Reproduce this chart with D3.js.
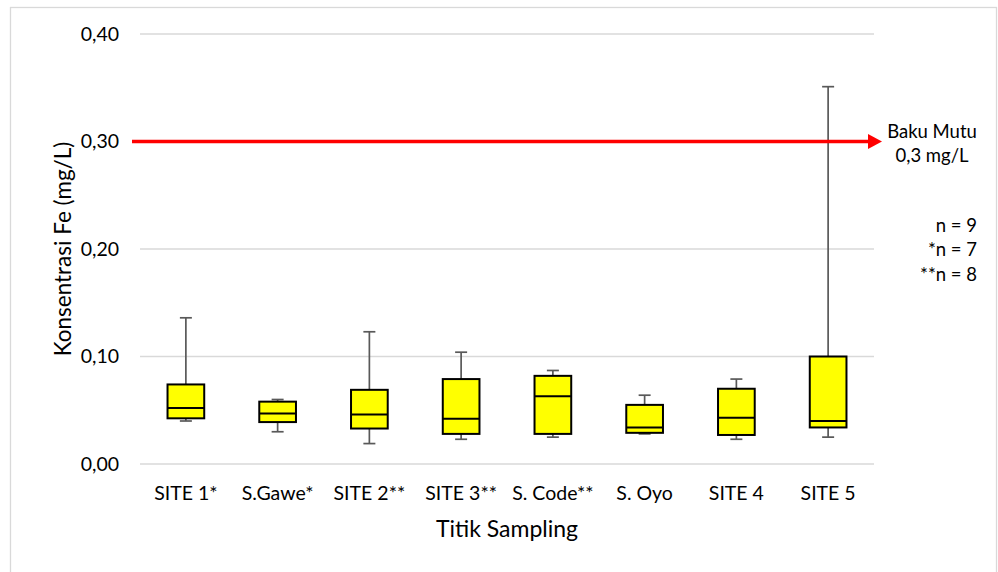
<html>
<head>
<style>
  body { margin: 0; background: #fff; }
  text { font-family: Lato, "Open Sans", sans-serif; fill: #000; }
</style>
</head>
<body>
<div id="chart"></div>
<script src="https://d3js.org/d3.v7.min.js"></script>
<script>
var categories = ["SITE 1*", "S.Gawe*", "SITE 2**", "SITE 3**", "S. Code**", "S. Oyo", "SITE 4", "SITE 5"];
var whiskerLow  = [0.040, 0.030, 0.019, 0.023, 0.025, 0.028, 0.023, 0.025];
var q1          = [0.0425, 0.039, 0.033, 0.028, 0.028, 0.029, 0.027, 0.034];
var median      = [0.052, 0.047, 0.046, 0.042, 0.063, 0.034, 0.043, 0.040];
var q3          = [0.074, 0.058, 0.069, 0.079, 0.082, 0.055, 0.070, 0.100];
var whiskerHigh = [0.136, 0.060, 0.123, 0.104, 0.087, 0.064, 0.079, 0.351];
var yTicks = [0, 0.1, 0.2, 0.3, 0.4];
var bakuMutu = 0.3;
var nNotes = ["n = 9", "*n = 7", "**n = 8"];

var W = 998, H = 572;
var margin = {top: 34, left: 140, right: 124, bottom: 108};

var svg = d3.select("#chart").append("svg")
  .attr("width", W)
  .attr("height", H);

// chart area border
svg.append("rect")
  .attr("x", 10.5).attr("y", 7.5)
  .attr("width", W - 12).attr("height", H)
  .attr("fill", "none")
  .attr("stroke", "#d9d9d9")
  .attr("stroke-width", 1.3);

var x = d3.scaleBand()
  .domain(categories)
  .range([margin.left, W - margin.right])
  .paddingInner(0.6)
  .paddingOuter(0.3);

var y = d3.scaleLinear()
  .domain([0, 0.4])
  .range([H - margin.bottom, margin.top]);

var fmt = function(d) { return d3.format(".2f")(d).replace(".", ","); };

// gridlines
svg.append("g")
  .selectAll("line")
  .data(yTicks)
  .enter().append("line")
  .attr("x1", margin.left).attr("x2", W - margin.right)
  .attr("y1", function(d) { return y(d); })
  .attr("y2", function(d) { return y(d); })
  .attr("stroke", "#d9d9d9")
  .attr("stroke-width", 1.3);

// y tick labels
var yAxis = svg.append("g")
  .attr("transform", "translate(" + margin.left + ",0)")
  .call(d3.axisLeft(y).tickValues(yTicks).tickFormat(fmt).tickSize(0).tickPadding(21));
yAxis.select(".domain").remove();
yAxis.selectAll("text")
  .style("font-family", "Lato, sans-serif")
  .style("font-size", "19.5px")
  .attr("fill", "#000");

// x category labels
var xAxis = svg.append("g")
  .attr("transform", "translate(0," + y(0) + ")")
  .call(d3.axisBottom(x).tickSize(0).tickPadding(22));
xAxis.select(".domain").remove();
xAxis.selectAll("text")
  .style("font-family", "Lato, sans-serif")
  .style("font-size", "19.5px")
  .attr("fill", "#000");

// axis titles
svg.append("text")
  .attr("x", (margin.left + W - margin.right) / 2)
  .attr("y", 537)
  .attr("text-anchor", "middle")
  .style("font-size", "23px")
  .text("Titik Sampling");

svg.append("text")
  .attr("transform", "translate(71," + (y(0) + y(0.4)) / 2 + ") rotate(-90)")
  .attr("text-anchor", "middle")
  .style("font-size", "22.5px")
  .text("Konsentrasi Fe (mg/L)");

var idx = d3.range(categories.length);
var cx = function(i) { return x(categories[i]) + x.bandwidth() / 2; };

// whiskers
var wg = svg.append("g").attr("stroke", "#595959").attr("stroke-width", 1.7);
wg.selectAll(".wlo").data(idx).enter().append("line")
  .attr("x1", cx).attr("x2", cx)
  .attr("y1", function(i) { return y(whiskerLow[i]); })
  .attr("y2", function(i) { return y(q1[i]); });
wg.selectAll(".whi").data(idx).enter().append("line")
  .attr("x1", cx).attr("x2", cx)
  .attr("y1", function(i) { return y(whiskerHigh[i]); })
  .attr("y2", function(i) { return y(q3[i]); });
wg.selectAll(".clo").data(idx).enter().append("line")
  .attr("x1", function(i) { return cx(i) - 6; })
  .attr("x2", function(i) { return cx(i) + 6; })
  .attr("y1", function(i) { return y(whiskerLow[i]); })
  .attr("y2", function(i) { return y(whiskerLow[i]); });
wg.selectAll(".chi").data(idx).enter().append("line")
  .attr("x1", function(i) { return cx(i) - 6; })
  .attr("x2", function(i) { return cx(i) + 6; })
  .attr("y1", function(i) { return y(whiskerHigh[i]); })
  .attr("y2", function(i) { return y(whiskerHigh[i]); });

// boxes
svg.append("g").selectAll("rect").data(idx).enter().append("rect")
  .attr("x", function(i) { return x(categories[i]); })
  .attr("y", function(i) { return y(q3[i]); })
  .attr("width", x.bandwidth())
  .attr("height", function(i) { return y(q1[i]) - y(q3[i]); })
  .attr("fill", "#ffff00")
  .attr("stroke", "#000")
  .attr("stroke-width", 2);

// medians
svg.append("g").selectAll("line").data(idx).enter().append("line")
  .attr("x1", function(i) { return x(categories[i]); })
  .attr("x2", function(i) { return x(categories[i]) + x.bandwidth(); })
  .attr("y1", function(i) { return y(median[i]); })
  .attr("y2", function(i) { return y(median[i]); })
  .attr("stroke", "#000")
  .attr("stroke-width", 2);

// baku mutu arrow
var ly = y(bakuMutu);
svg.append("line")
  .attr("x1", 132).attr("x2", 869)
  .attr("y1", ly).attr("y2", ly)
  .attr("stroke", "#ff0000")
  .attr("stroke-width", 3.5);
svg.append("path")
  .attr("d", "M868," + (ly - 7.5) + "L882," + ly + "L868," + (ly + 7.5) + "Z")
  .attr("fill", "#ff0000");

svg.append("text")
  .attr("x", 932).attr("y", 138)
  .attr("text-anchor", "middle")
  .style("font-size", "18.5px")
  .text("Baku Mutu");
svg.append("text")
  .attr("x", 932).attr("y", 162)
  .attr("text-anchor", "middle")
  .style("font-size", "18.5px")
  .text("0,3 mg/L");

svg.append("g").selectAll("text").data(nNotes).enter().append("text")
  .attr("x", 977)
  .attr("y", function(d, i) { return 232 + i * 24.3; })
  .attr("text-anchor", "end")
  .style("font-size", "18.5px")
  .text(function(d) { return d; });
</script>
</body>
</html>
